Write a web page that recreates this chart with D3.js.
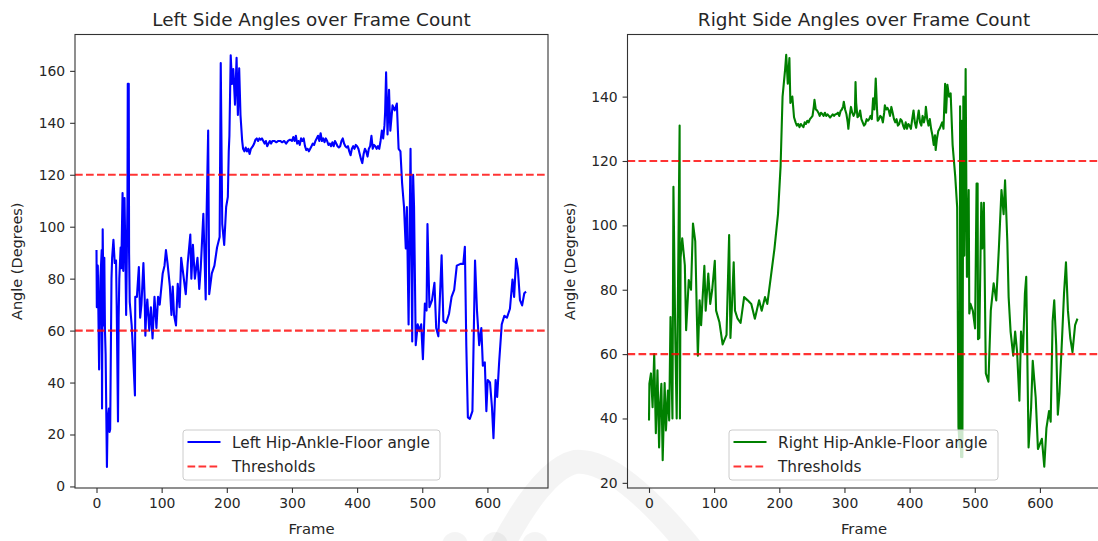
<!DOCTYPE html>
<html>
<head>
<meta charset="utf-8">
<script src="https://cdn.jsdelivr.net/npm/d3@7"></script>
<style>
  body { margin: 0; background: #fff; }
  text { font-family: "DejaVu Sans", sans-serif; fill: #262626; }
</style>
</head>
<body>
<script>
// [frame, angle] pairs
const leftSeries = [
  [0, 91], [0.5, 69], [2, 85], [4, 45], [6, 80], [8, 91], [8.5, 30], [9.5, 99], [11, 62], [12, 88],
  [13, 60], [14, 51], [16, 7.5], [17, 25], [19, 30], [20, 21], [21, 22], [23, 80], [24, 88], [26, 95],
  [28, 86], [30, 87], [31, 70], [33, 25], [34, 65], [35, 80], [37, 92], [38, 84], [40, 113], [41, 83],
  [43, 111], [44, 95], [45.5, 66], [47.5, 109], [48, 155], [49.5, 155], [50, 90], [51, 71], [54, 62],
  [56, 52], [59, 35], [59.5, 73], [62, 73], [65, 84.5], [67, 65], [69, 70], [72, 86], [74, 72],
  [75, 58], [76, 65], [78, 72], [81, 60], [83.5, 69], [86, 57], [89, 73], [92, 61], [94.5, 73],
  [97, 70], [101.6, 82], [104.4, 85], [106.6, 91], [109, 86], [112.6, 77], [115, 66], [117, 77],
  [119, 66], [122, 62], [124.7, 78], [127.5, 69], [130, 88], [133, 82], [137, 74], [140, 86],
  [144, 97], [145.6, 80], [148, 93], [151, 80], [155, 88], [157.7, 76], [160, 84], [164, 105],
  [167.6, 72], [169, 105], [171.4, 137], [173, 74], [177, 82], [181, 85], [185, 92], [189, 96],
  [190.7, 163], [193, 101], [196, 93], [199, 107.6], [201.6, 111.5], [203, 129], [204, 135],
  [206, 166], [208, 155], [210, 160.7], [212.6, 147], [215, 165], [217, 143], [219, 161], [221, 143],
  [223.6, 133], [225, 130], [227, 129], [229, 130.5], [231, 129], [233, 130], [235, 128], [237, 130],
  [240, 131], [242, 132], [244, 133.5], [246, 134], [248, 133], [250, 134], [252, 133.5], [254, 134],
  [256, 133], [258, 132], [260, 133], [262, 131], [264, 132], [266, 133], [268, 132], [270, 133],
  [273, 133], [276, 132.5], [279, 133], [282, 133], [285, 132.5], [288, 133], [291, 132], [294, 133],
  [297, 133.5], [300, 133], [302, 134.5], [304, 133], [306, 135], [308, 132], [310, 133], [312, 131.5],
  [314, 134], [316, 133], [318, 134], [320, 131], [322, 129.5], [324, 130], [326, 129], [328, 130],
  [330, 131], [332, 132], [334, 131.5], [336, 133], [338, 134], [340, 135], [342, 133], [344, 136],
  [346, 133], [348, 134], [350, 132.5], [352, 134], [354, 133], [356, 131.5], [358, 132], [360, 131],
  [362, 132.5], [364, 131], [366, 133], [368, 132], [370, 131], [372, 130.5], [374, 131], [376, 133],
  [378, 134], [380, 132], [382, 131], [384, 130.5], [386, 131], [388, 129], [390, 127.5], [392, 130],
  [394, 131], [396, 130], [398, 131.5], [400, 131], [402, 130], [404, 128], [406, 126], [408, 124.5],
  [410, 128], [412, 130], [414, 129], [416, 127], [418, 130], [420, 131], [422, 135], [424, 130],
  [426, 131.5], [428, 131], [430, 130], [432, 131], [434, 130], [436, 133], [438, 137], [440, 134],
  [442, 139], [443, 144], [444.5, 159.4], [446.7, 135.5],
  [449, 152.7], [451, 137], [454.4, 146.7], [457.7, 144.8], [461, 147.4], [463.7, 130], [466.5, 129],
  [469, 117], [472, 107.6], [474.7, 91.6], [476.4, 107.6], [479, 62.4], [482, 130], [484.6, 55.8],
  [486, 120], [487.4, 107.6], [490, 54.4], [493, 62.4], [495.6, 59.8], [498.4, 62.4], [501, 49],
  [504, 70.4], [506.6, 67.7], [508, 101], [511, 69], [515, 71.7], [518.7, 78.4], [521.4, 61],
  [524.7, 57.8], [529.7, 89], [532.4, 63.7], [536.8, 63], [541, 66.4], [545, 73], [549, 75.7],
  [553, 85], [558.8, 85.7], [563, 85.7], [565.4, 92.3], [567.6, 54.4], [570, 26.6], [573, 26],
  [577, 29], [581, 87], [584, 67.7], [587.4, 54.4], [590.7, 61], [593, 46.5], [596, 47.8],
  [598.4, 29], [600.5, 41], [604, 40], [607, 30.5], [609.3, 18.6], [612.6, 41], [615, 34.5],
  [618, 47.8], [622, 62.4], [626, 65.7], [630, 65], [634.6, 68.4], [638.5, 79.7], [641, 73],
  [644, 87.6], [646.7, 83.7], [650, 71.7], [653.3, 69.7], [656.6, 74.4], [659.3, 75]
];

const rightSeries = [
  [0, 39.4], [0.6, 50.8], [3, 54], [5.5, 43.5], [8, 60], [10.5, 35.4], [13, 55], [15.5, 31],
  [17, 44], [19, 50.8], [21, 27], [24, 51], [26, 36.3], [29, 48.7], [31, 39.4], [33, 71.5],
  [36, 40], [37.5, 112], [40.5, 63], [42.5, 40], [44.5, 80], [47, 131], [47.5, 40], [48.5, 90],
  [51, 96], [55, 87.6], [57, 67.4], [61, 83], [64.5, 80], [67.5, 100.6], [71, 95], [73.5, 71.5],
  [75, 59.5], [77.7, 76.7], [80, 69], [85, 87.4], [87, 73.5], [91, 85], [94, 75.6], [97, 80],
  [101, 89], [103, 73.5], [108, 70], [113, 63], [119, 66], [123, 97], [125, 65], [127, 73.5],
  [130, 88.5], [132, 73.5], [136, 71], [140.6, 69.7], [146, 77.7], [151.5, 76.7], [157, 75.6],
  [162.5, 71], [169, 76.7], [173, 73.5], [178, 77.7], [181.6, 75.6], [187, 84], [192.6, 92.8],
  [198, 103.5], [202, 118.5], [205, 140], [209, 148.6], [210.6, 153], [213, 144], [215.5, 152],
  [217, 138], [220, 140], [222.6, 133.6], [225, 132], [227, 131], [229, 131.5], [231, 130.5],
  [233, 131.5], [235, 131], [237, 130.5], [239, 132], [241, 131.5], [243, 132.5], [245, 132],
  [247, 133], [249, 133.5], [251, 134], [253, 137], [254, 139], [256, 136], [258, 135.7], [260, 135],
  [262, 134], [264, 135], [266, 134.6], [268, 134], [270, 135], [272, 134], [274, 134.5], [276, 134],
  [278, 133.5], [280, 134], [282, 134.5], [284, 134], [286, 134.5], [288, 134.6], [290, 135],
  [292, 134], [294, 135.5], [296, 136], [298, 137], [299, 138.4], [301, 136], [303, 134.6],
  [305, 132], [306, 130], [308, 134], [310, 136.8], [312, 135], [314, 134], [316, 135], [317, 144.5],
  [318, 138], [320, 133.6], [322, 134], [324, 135.7], [326, 133], [328, 132], [330, 131],
  [332, 131.5], [334, 133], [336, 132.5], [338, 133], [340, 134], [342, 133], [344, 139.5],
  [346, 136], [348, 145.6], [350, 136], [351, 132.5], [353, 133], [355, 134], [357, 133.6],
  [359, 132], [361, 135], [362, 137.3], [364, 136], [366, 136.5], [368, 135.7], [370, 134],
  [372, 136.8], [374, 135], [376, 133], [378, 132], [380, 133], [382, 131], [384, 131.5], [386, 133],
  [388, 132.5], [390, 131], [392, 130], [394, 132], [396, 130], [398, 131.5], [400, 131], [402, 130],
  [404, 133], [406, 135.7], [408, 132], [410, 130.3], [412, 133], [414, 135.7], [416, 132],
  [418, 131], [420, 134], [422, 132], [424, 134], [425, 136.8], [427, 133], [429, 131], [431, 133],
  [433, 130], [435, 128], [437, 125], [439, 128], [440, 123.4], [442, 127], [444, 129.3], [446, 130],
  [448, 131], [450, 132], [452, 130], [454.5, 144], [456, 135], [458, 143.7], [460.6, 140], [463, 141],
  [466, 125], [470, 115.3], [473, 105.6], [475, 37.3], [477, 31], [477.5, 137], [479, 28],
  [480, 132.5], [481, 28], [482.5, 140], [484, 90.6], [486, 148.6], [487.6, 95], [488, 84],
  [490.7, 111], [491.6, 72.6], [493.4, 75.6], [497, 73.5], [500.5, 68], [502.8, 113], [504.4, 113],
  [505, 64.6], [507, 65], [510, 107], [511.5, 92.8], [514, 107], [517, 54], [521, 51.4],
  [524.6, 73.5], [529, 82], [533, 76.7], [537, 92.8], [541, 111], [544.3, 103.5], [546.5, 114],
  [550, 95], [552, 77.7], [555, 67], [559, 59.5], [562, 67], [565, 60.6], [568.5, 45.5], [571, 67],
  [574, 60.6], [577, 78.8], [579, 84], [582.6, 31], [586.5, 43.4], [589, 57.9], [593.5, 46.6],
  [597, 30.5], [603, 33.7], [606.7, 25], [610, 37], [614, 42.3], [616.5, 39], [619.5, 70.2],
  [622, 76.7], [625, 62.7], [627.5, 41.2], [630, 47.7], [634, 65], [637, 78.8], [640, 88.5],
  [643, 73.5], [646.6, 65], [650, 60.6], [654, 69], [657.6, 71]
];

const thresholds = [60, 120];
const xTicks = [0, 100, 200, 300, 400, 500, 600];
const leftYTicks = [0, 20, 40, 60, 80, 100, 120, 140, 160];
const rightYTicks = [20, 40, 60, 80, 100, 120, 140];

const panels = [
  { title: "Left Side Angles over Frame Count", label: "Left Hip-Ankle-Floor angle",
    data: leftSeries, color: "#0000ff", yTicks: leftYTicks, yDomain: [-0.6, 174],
    left: 75, legendX: 183, legendW: 257 },
  { title: "Right Side Angles over Frame Count", label: "Right Hip-Ankle-Floor angle",
    data: rightSeries, color: "#008000", yTicks: rightYTicks, yDomain: [18.4, 159.3],
    left: 627.5, legendX: 729, legendW: 269 }
];

const W = 1098, H = 541;
const plotTop = 34.5, plotBottom = 488, boxW = 473;

const svg = d3.select("body").append("svg")
  .attr("width", W).attr("height", H);

panels.forEach(p => {
  const x = d3.scaleLinear().domain([-33, 693]).range([p.left, p.left + boxW]);
  const y = d3.scaleLinear().domain(p.yDomain).range([plotBottom, plotTop]);
  const cx = p.left + boxW / 2;

  const clipId = "clip" + Math.round(p.left);
  svg.append("clipPath").attr("id", clipId)
    .append("rect").attr("x", p.left).attr("y", plotTop).attr("width", boxW).attr("height", plotBottom - plotTop);

  const plot = svg.append("g").attr("clip-path", `url(#${clipId})`);

  plot.append("path")
    .datum(p.data)
    .attr("fill", "none")
    .attr("stroke", p.color)
    .attr("stroke-width", 2.1)
    .attr("stroke-linejoin", "round")
    .attr("d", d3.line().x(d => x(d[0])).y(d => y(d[1])));

  plot.selectAll(".thr")
    .data(thresholds)
    .enter().append("line")
      .attr("x1", p.left).attr("x2", p.left + boxW)
      .attr("y1", d => y(d)).attr("y2", d => y(d))
      .attr("stroke", "red").attr("stroke-opacity", 0.8)
      .attr("stroke-width", 2.1)
      .attr("stroke-dasharray", "7.7,3.3");

  // axes
  const xAxis = svg.append("g")
    .attr("transform", `translate(0,${plotBottom})`)
    .call(d3.axisBottom(x).tickValues(xTicks).tickSize(4.9).tickPadding(4.9));
  const yAxis = svg.append("g")
    .attr("transform", `translate(${p.left},0)`)
    .call(d3.axisLeft(y).tickValues(p.yTicks).tickSize(4.9).tickPadding(4.9));
  [xAxis, yAxis].forEach(a => {
    a.select(".domain").remove();
    a.selectAll("line").attr("stroke", "#333").attr("stroke-width", 1.1);
    a.selectAll("text").attr("font-size", 13.9).attr("fill", "#262626")
      .style("font-family", "DejaVu Sans, sans-serif");
  });

  svg.append("rect")
    .attr("x", p.left).attr("y", plotTop).attr("width", boxW).attr("height", plotBottom - plotTop)
    .attr("fill", "none").attr("stroke", "#333").attr("stroke-width", 1.1);

  svg.append("text")
    .attr("x", cx).attr("y", 26)
    .attr("text-anchor", "middle").attr("font-size", 18.4)
    .text(p.title);

  svg.append("text")
    .attr("x", cx).attr("y", 534)
    .attr("text-anchor", "middle").attr("font-size", 14.8)
    .text("Frame");

  svg.append("text")
    .attr("transform", `translate(${p.left - 53},${(plotTop + plotBottom) / 2}) rotate(-90)`)
    .attr("text-anchor", "middle").attr("font-size", 14.5)
    .text("Angle (Degrees)");

  // legend
  const lg = svg.append("g").attr("transform", `translate(${p.legendX},430)`);
  lg.append("rect")
    .attr("width", p.legendW).attr("height", 50).attr("rx", 3)
    .attr("fill", "#fff").attr("fill-opacity", 0.8)
    .attr("stroke", "#ccc").attr("stroke-width", 1);
  lg.append("line")
    .attr("x1", 4.5).attr("x2", 37.5).attr("y1", 12).attr("y2", 12)
    .attr("stroke", p.color).attr("stroke-width", 2.1);
  lg.append("line")
    .attr("x1", 4.5).attr("x2", 37.5).attr("y1", 36.5).attr("y2", 36.5)
    .attr("stroke", "red").attr("stroke-opacity", 0.8).attr("stroke-width", 2.1)
    .attr("stroke-dasharray", "7.7,3.3");
  lg.append("text").attr("x", 49).attr("y", 18).attr("font-size", 15.3).text(p.label);
  lg.append("text").attr("x", 49).attr("y", 42).attr("font-size", 15.3).text("Thresholds");
});

// faint watermark over the bottom of the image
const wm = svg.append("g").attr("fill", "#000").attr("fill-opacity", 0.045)
  .attr("stroke", "#000").attr("stroke-opacity", 0.045);
wm.append("path")
  .attr("fill", "none").attr("stroke-width", 24)
  .attr("d", "M495,560 Q540,470 575,462 Q620,458 700,560");
[455, 495, 535].forEach(cxw => wm.append("circle")
  .attr("cx", cxw).attr("cy", 545).attr("r", 13).attr("stroke", "none"));
</script>
</body>
</html>
